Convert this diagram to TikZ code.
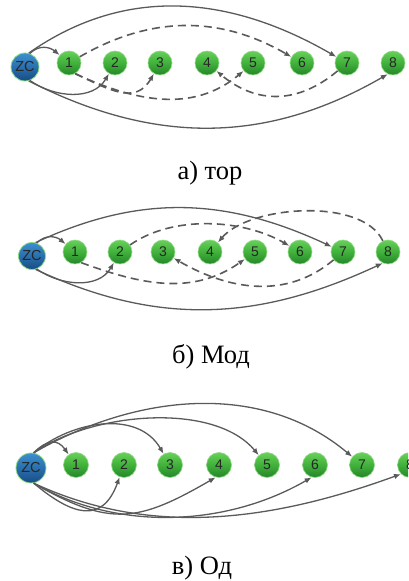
\documentclass[tikz,border=0pt]{standalone}
\usepackage{fontspec}
\setmainfont{Liberation Serif}
\newfontfamily\nodefont{Liberation Sans}
\usetikzlibrary{arrows.meta}
\definecolor{edgegray}{HTML}{5A5A5A}
\definecolor{gtop}{HTML}{66D05A}
\definecolor{gmid}{HTML}{41B13B}
\definecolor{gbot}{HTML}{24852A}
\definecolor{gborder}{HTML}{8FDB84}
\definecolor{btop}{HTML}{3C90CF}
\definecolor{bmid}{HTML}{2A6FAE}
\definecolor{bbot}{HTML}{174C84}
\tikzset{
 gnode/.style={circle, minimum size=24pt, inner sep=0pt, top color=gtop, bottom color=gbot, middle color=gmid, draw=gborder, line width=0.6pt, font=\nodefont\fontsize{14}{14}\selectfont, text=black!85},
 znode/.style={circle, minimum size=28pt, inner sep=0pt, top color=btop, bottom color=bbot, middle color=bmid, draw=gborder, line width=0.8pt, font=\nodefont\fontsize{14.5}{15}\selectfont, text=black!85},
 solidedge/.style={draw=edgegray, line width=1.3pt, -{Latex[length=7pt,width=5.5pt]}},
 dashedge/.style={draw=edgegray, line width=1.6pt, dash pattern=on 8pt off 5pt, -{Latex[length=7pt,width=5.5pt]}},
 caption/.style={font=\fontsize{26.5}{27}\selectfont, anchor=base, inner sep=0pt}
}
\begin{document}
\begin{tikzpicture}[x=1pt,y=1pt]
\useasboundingbox (0,0) rectangle (408,581);
\clip (0,0) rectangle (408,581);
% ---------------- panel a ----------------
\node[znode] (za) at (25,514) {ZC};
\foreach \i/\x in {1/69,2/115,3/160,4/207,5/253,6/302,7/347,8/393}
  \node[gnode] (a\i) at (\x,518) {\raisebox{1pt}{\i}};
\draw[solidedge] (za.70) to[out=45,in=140,looseness=1.1] (a1);
\draw[solidedge] (za.75) to[out=35,in=150] (a7);
\draw[solidedge] (za.-75) to[out=-27,in=-150] (a8.-115);
\draw[solidedge] (za.-70) to[out=-35,in=-120] (a2);
\draw[dashedge] (a1) to[out=30,in=150] (a6);
\draw[dashedge] (a1.-60) to[out=-25,in=-120,looseness=1.2] (a3);
\draw[dashedge] (a1.-60) to[out=-25,in=-140] (a5);
\draw[dashedge] (a7) to[out=-140,in=-40,looseness=1.1] (a4);
\node[caption] (capa) at (210,401) {а) тор};
% ---------------- panel b ----------------
\node[znode, minimum size=27pt] (zb) at (32,325) {ZC};
\foreach \i/\x in {1/75,2/120,3/163,4/210,5/255,6/300,7/343,8/388}
  \node[gnode] (b\i) at (\x,329) {\raisebox{1pt}{\i}};
\draw[solidedge] (zb.70) to[out=45,in=140,looseness=1.1] (b1);
\draw[solidedge] (zb.75) to[out=25,in=155] (b7);
\draw[solidedge] (zb.-70) to[out=-35,in=-120] (b2);
\draw[solidedge] (zb.-75) to[out=-25,in=-155] (b8.-115);
\draw[dashedge] (b2) to[out=35,in=150,looseness=0.85] (b6);
\draw[dashedge] (b8) to[out=115,in=50,looseness=0.75] (b4);
\draw[dashedge] (b1.-60) to[out=-20,in=-145] (b5);
\draw[dashedge] (b7) to[out=-140,in=-30] (b3);
\node[caption] (capb) at (211,217) {б) Мод};
% ---------------- panel c ----------------
\node[znode, minimum size=30pt] (zc) at (31,113) {ZC};
\foreach \i/\x in {1/76,2/124,3/170,4/219,5/267,6/315,7/362,8/410}
  \node[gnode, minimum size=25pt] (c\i) at (\x,116) {\raisebox{1pt}{\i}};
\draw[solidedge] (zc.80) to[out=45,in=125,looseness=1.4] (c1);
\draw[solidedge] (zc.80) to[out=40,in=120] (c3);
\draw[solidedge] (zc.80) to[out=35,in=130,looseness=0.8] (c5);
\draw[solidedge] (zc.80) to[out=30,in=140,looseness=0.95] (c7);
\draw[solidedge] (zc.-80) to[out=-40,in=-110,looseness=1.5] (c2);
\draw[solidedge] (zc.-80) to[out=-30,in=-150,looseness=1.25] (c4.-105);
\draw[solidedge] (zc.-80) to[out=-30,in=-150,looseness=0.9] (c6.-105);
\draw[solidedge] (zc.-80) to[out=-25,in=-160,looseness=0.92] (c8.-135);
\node[caption] (capc) at (202,6) {в) Од};
\end{tikzpicture}
\end{document}
